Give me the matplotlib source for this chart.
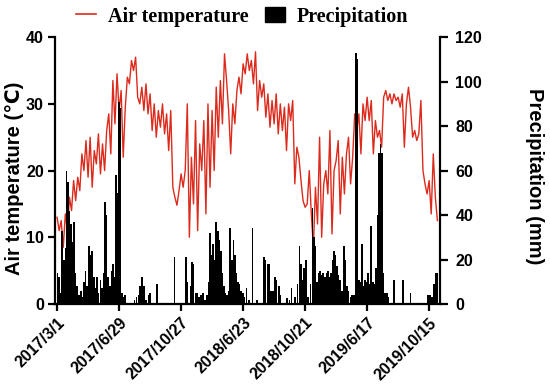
import numpy as np
import matplotlib
matplotlib.use("Agg")
import matplotlib.pyplot as plt
from matplotlib.lines import Line2D
from matplotlib.patches import Patch

# ---- data (x = sampling-day index, one value every 4 days for temperature) ----
temp_step = 4
air_temp = [
    13.0, 11.0, 12.5, 8.5, 13.5, 11.0, 16.0, 14.0,
    18.5, 15.5, 19.0, 17.0, 22.5, 20.0, 24.5, 19.0,
    25.0, 17.5, 23.0, 21.0, 25.5, 19.5, 24.0, 20.0,
    26.0, 28.5, 22.5, 33.5, 27.0, 34.5, 29.0, 32.0,
    22.0, 29.5, 34.0, 33.0, 36.5, 35.0, 37.0, 31.0,
    30.0, 32.5, 29.0, 33.0, 28.5, 31.5, 26.0, 30.0,
    25.0, 29.0, 26.5, 30.0, 25.5, 28.5, 23.0, 29.0,
    17.5, 16.0, 14.8, 17.0, 19.5, 17.5, 20.0, 30.0,
    10.0, 22.0, 15.0, 27.5, 11.0, 24.0, 20.0, 27.5,
    13.5, 30.0, 17.5, 29.0, 20.0, 32.5, 25.0, 33.5,
    27.0, 37.5, 33.5, 29.0, 22.5, 30.0, 27.0, 32.0,
    34.0, 31.5, 36.0, 34.5, 37.5, 35.0, 36.5, 33.0,
    37.8, 29.0, 33.5, 31.0, 33.0, 28.0, 31.5, 26.5,
    30.5, 27.0, 31.5, 25.5, 30.0, 26.0, 29.5, 23.0,
    30.0, 27.5, 30.5, 18.0, 23.5, 22.0, 18.5, 15.5,
    14.5, 15.0, 20.0, 13.5, 8.5, 17.5, 12.0, 25.0,
    10.0, 18.0, 20.0, 16.5, 26.0, 10.5, 20.0, 21.5,
    24.5, 13.5, 22.0, 16.5, 22.5, 25.0, 18.0, 22.0,
    28.5, 26.0, 28.5, 22.5, 30.0, 27.5, 31.0, 27.5,
    30.5, 22.5, 27.5, 25.0, 26.0, 23.5, 31.0, 32.0,
    30.5, 31.5, 30.0, 31.5, 30.5, 31.0, 29.5, 31.5,
    23.5, 30.0, 32.5, 29.5, 25.0, 26.0, 24.5, 25.5,
    30.5, 20.0, 18.0, 16.5, 18.5, 13.5, 22.5, 16.0,
    12.5,
]

precip_day = [
    1, 4, 7, 10, 13, 16, 18, 21, 24, 27, 30, 33, 36, 39, 42, 46, 49, 52, 55, 58,
    62, 65, 68, 71, 74, 77, 80, 84, 87, 90, 93, 96, 99, 102, 105, 108, 111, 114,
    117, 120, 123, 126, 129,
    131, 150, 154, 158, 161, 164, 168, 172, 177, 180, 193, 227,
    249, 252, 258, 261, 264, 268, 271, 275, 279, 282, 286, 290, 293, 296, 299,
    302, 305, 308, 311, 314, 317, 320, 323, 326, 329, 332, 335, 338, 341, 344,
    347, 350, 353, 356, 360, 363, 367, 371, 378,
    387, 400, 403, 407, 410, 414, 418, 422, 425, 429, 432, 445, 450, 454, 460,
    465, 469, 472, 475, 478, 482,
    486, 490, 494, 497, 500, 503, 506, 509, 512, 515, 518, 521, 524, 527, 530,
    533, 536, 539, 542, 545, 548, 551, 555, 558, 561, 564, 568, 571, 575, 578,
    581, 584, 587, 590, 593, 596, 599, 602, 605, 608, 611, 614, 617, 620, 623,
    626, 629, 632, 635, 638, 641,
    652, 669, 684, 718, 722, 726, 729, 732, 735,
]
precip_mm = [
    14, 12, 5, 33, 20, 25, 60, 55, 42, 36, 28, 37, 14, 8, 4, 6, 3, 10, 15, 8,
    26, 22, 24, 12, 7, 12, 5, 11, 7, 14, 46, 40, 12, 8, 15, 18, 12, 58,
    50, 91, 88, 5, 3,
    4, 2, 3, 4, 8, 12, 8, 2, 4, 5, 9, 21,
    21, 10, 8, 19, 18, 5, 5, 3, 4, 5, 2, 4, 10, 32, 22,
    27, 20, 37, 33, 29, 24, 14, 8, 5, 4, 6, 34, 20, 29, 22,
    14, 10, 9, 6, 5, 3, 7, 2, 34,
    2, 21, 20, 18, 18, 6, 6, 12, 11, 8, 4, 2.5, 2, 7, 3,
    9, 26, 18, 11, 16, 20,
    3, 9, 43, 30, 26, 10, 14, 15, 13, 14, 12, 14, 15, 12, 14,
    20, 24, 22, 17, 13, 11, 6, 26, 20, 8, 6, 3, 4, 4, 113,
    110, 11, 10, 27, 8, 11, 10, 14, 9, 35, 10, 9, 16, 40, 68,
    72, 68, 14, 5, 5, 3,
    11, 11, 5, 4, 4, 3, 9, 14, 14,
]

tick_pos = [0, 120, 240, 360, 480, 600, 720]
tick_labels = ["2017/3/1", "2017/6/29", "2017/10/27", "2018/6/23",
               "2018/10/21", "2019/6/17", "2019/10/15"]

# ---- figure ----
sans = ["Liberation Sans", "DejaVu Sans"]
serif = ["Liberation Serif", "DejaVu Serif"]
plt.rcParams["font.family"] = sans
plt.rcParams["font.weight"] = "bold"

fig = plt.figure(figsize=(5.5, 3.87), dpi=100)
ax = fig.add_axes([0.1, 0.2145, 0.70, 0.6895])
ax2 = ax.twinx()

temp_x = np.arange(len(air_temp)) * temp_step
ax.plot(temp_x, air_temp, color="#dc2a1c", lw=1.0, zorder=2)
ax2.bar(precip_day, precip_mm, width=3.0, color="black", linewidth=0, zorder=3)

ax.set_xlim(-4, 741)
ax.set_ylim(0, 40)
ax2.set_ylim(0, 120)
ax.set_yticks([0, 10, 20, 30, 40])
ax2.set_yticks([0, 20, 40, 60, 80, 100, 120])
ax.set_xticks(tick_pos)
ax.set_xticklabels(tick_labels, rotation=45, ha="right", rotation_mode="anchor",
                   fontsize=11.5, fontweight="bold")

for a in (ax, ax2):
    a.spines["top"].set_visible(False)
    for s in ("left", "right", "bottom"):
        a.spines[s].set_linewidth(1.6)
    a.tick_params(width=1.6, length=5, labelsize=11.5, direction="out", pad=3)
ax2.tick_params(length=6, pad=5)
ax.spines["right"].set_visible(False)
ax2.spines["left"].set_visible(False)
ax2.spines["bottom"].set_visible(False)

ax.set_ylabel("Air temperature (℃)", fontsize=14.5, fontweight="bold")
ax.yaxis.set_label_coords(-0.105, 0.47)
ax.yaxis.label.set_va("center")
ax.yaxis.label.set_ha("center")
ax2.set_ylabel("Precipitation (mm)", fontsize=14.5, fontweight="bold", rotation=270)
ax2.yaxis.set_label_coords(1.245, 0.48)
ax2.yaxis.label.set_va("center")
ax2.yaxis.label.set_ha("center")

handles = [Line2D([0], [0], color="#dc2a1c", lw=1.2),
           Patch(facecolor="black", edgecolor="black")]
fig.legend(handles, ["Air temperature", "Precipitation"], loc="upper center",
           bbox_to_anchor=(0.44, 1.03), ncol=2, frameon=False,
           prop={"family": serif, "weight": "bold", "size": 14.5},
           handlelength=1.0, handleheight=0.7, columnspacing=0.8, handletextpad=0.6)

fig.savefig("out.png", dpi=100)
